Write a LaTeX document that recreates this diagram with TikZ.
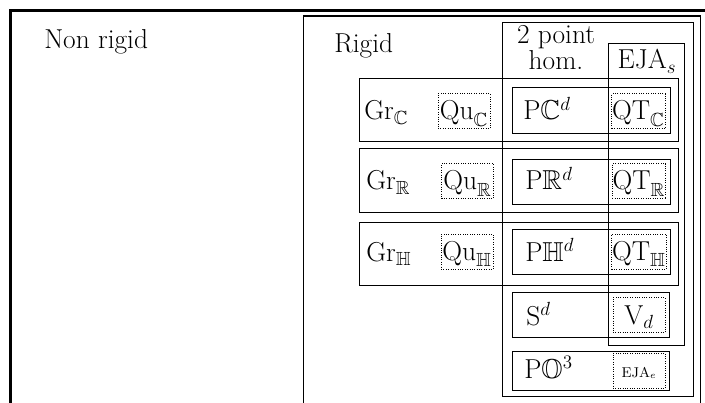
\documentclass[tikz,border=0pt]{standalone}
\usepackage{amssymb}

\tikzset{every picture/.style={line width=0.6pt}}
\tikzset{
  lbl/.style={font=\LARGE, inner sep=0.5pt},
  qbox/.style={draw, densely dotted, line width=0.5pt, font=\LARGE, inner ysep=1.3pt,
    inner xsep=0.3pt, text height=15.3pt, text depth=4.1pt, minimum width=32.8pt}
}

\begin{document}
\begin{tikzpicture}[x=0.631pt,y=0.631pt,yscale=-1,xscale=1]
\useasboundingbox (0,0) rectangle (705,403);
\clip (0,0) rectangle (705,403);

%Shape: Frame, non rigid
\draw [line width=2.2pt] (10.5,430) -- (10.5,10.5) -- (730,10.5) ;
%Shape: Frame, rigid
\draw [line width=0.9pt] (303.5,430) -- (303.5,16) -- (700.5,16) -- (700.5,430) ;
%Shape: Rectangle, 2 point hom.
\draw (502,22) rectangle (693.5,396) ;
%Shape: Rectangle, EJA s
\draw (608,43) rectangle (684,345) ;

%Shape: Rectangle, rows Gr
\draw (359,78) rectangle (678.5,141) ;
\draw (359,148) rectangle (678.5,212) ;
\draw (359,222) rectangle (678.5,285) ;
%Shape: Rectangle, rows P
\draw (512,87.5) rectangle (670,133) ;
\draw (512,159) rectangle (670,204) ;
\draw (512,229) rectangle (670,274.5) ;
\draw (512,292) rectangle (669,337) ;
\draw (512,351) rectangle (669,390) ;

% Text Node
\draw (43,49) node [lbl, anchor=base west] (nonrigid) {Non rigid};
% Text Node
\draw (333,53) node [lbl, anchor=base west] (rigid) {Rigid};
% Text Node
\draw (556,44) node [lbl, anchor=base] (twopt) {2 point};
\draw (556,70) node [lbl, anchor=base] (hom) {hom.};
% Text Node
\draw (647,69) node [lbl, anchor=base] (ejas) {$\mathrm{EJA}_s$};

% Text Node
\draw (363,120) node [lbl, anchor=base west] (grC) {$\mathrm{Gr}_{\mathbb{C}}$};
\draw (365,190) node [lbl, anchor=base west] (grR) {$\mathrm{Gr}_{\mathbb{R}}$};
\draw (365,261) node [lbl, anchor=base west] (grH) {$\mathrm{Gr}_{\mathbb{H}}$};
% Text Node
\draw (522,120) node [lbl, anchor=base west] (pC) {$\mathrm{P}\mathbb{C}^d$};
\draw (524,190) node [lbl, anchor=base west] (pR) {$\mathrm{P}\mathbb{R}^d$};
\draw (524,261) node [lbl, anchor=base west] (pH) {$\mathrm{P}\mathbb{H}^d$};
\draw (525,325) node [lbl, anchor=base west] (sd) {$\mathrm{S}^d$};
\draw (523,378) node [lbl, anchor=base west] (pO) {$\mathrm{P}\mathbb{O}^3$};

% Dotted boxes
\draw (464,120) node [qbox, anchor=base] (quC) {$\mathrm{Qu}_{\mathbb{C}}$};
\draw (467.5,190) node [qbox, anchor=base] (quR) {$\mathrm{Qu}_{\mathbb{R}}$};
\draw (467,260.5) node [qbox, anchor=base] (quH) {$\mathrm{Qu}_{\mathbb{H}}$};
\draw (638.5,120) node [qbox, anchor=base] (qtC) {$\mathrm{QT}_{\mathbb{C}}$};
\draw (639,190) node [qbox, anchor=base] (qtR) {$\mathrm{QT}_{\mathbb{R}}$};
\draw (639,260.5) node [qbox, anchor=base] (qtH) {$\mathrm{QT}_{\mathbb{H}}$};
\draw (639,324) node [qbox, anchor=base] (vd) {$\mathrm{V}_d$};
\draw (639,377) node [qbox, anchor=base, font=\small, text height=13.7pt, text depth=5.7pt] (ejae) {$\mathrm{EJA}_e$};

\end{tikzpicture}
\end{document}
